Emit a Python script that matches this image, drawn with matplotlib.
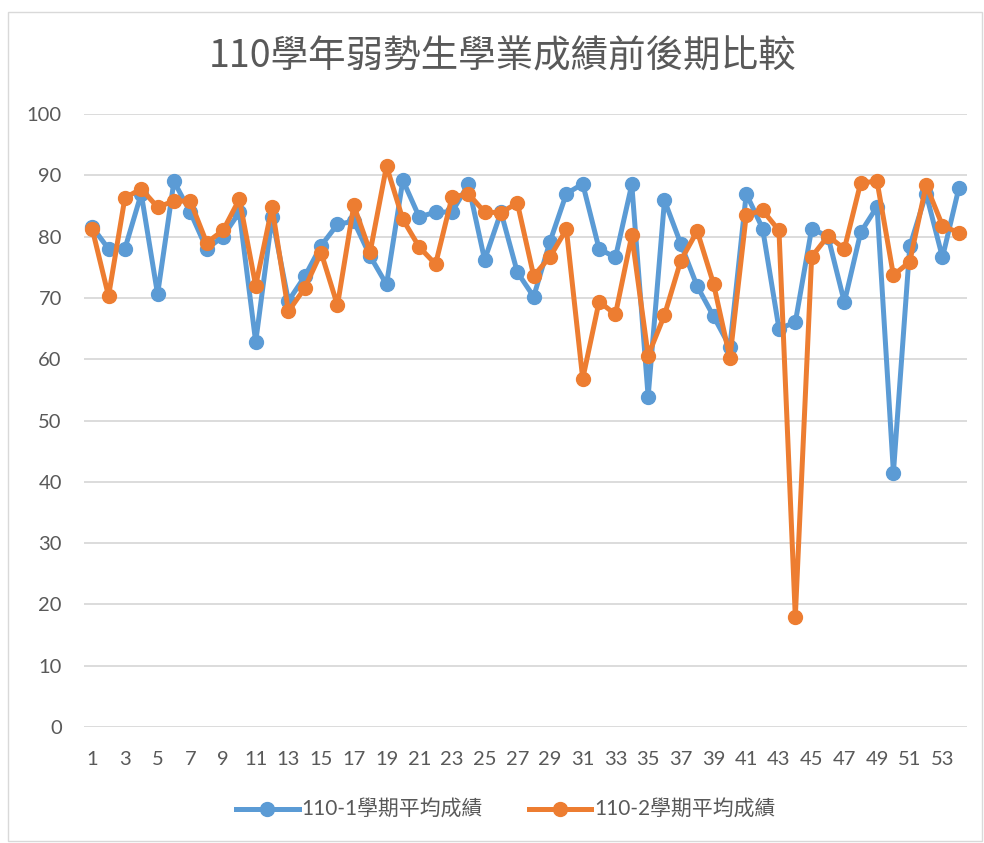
import matplotlib
matplotlib.use("Agg")
import matplotlib.pyplot as plt
from matplotlib.patches import Rectangle

plt.rcParams['font.family'] = ['Lato', 'Noto Sans CJK TC', 'DejaVu Sans']

title = "110學年弱勢生學業成績前後期比較"
series1_name = "110-1學期平均成績"
series2_name = "110-2學期平均成績"

students = list(range(1, 55))
sem1 = [81.6, 78.0, 78.0, 87.0, 70.6, 89.0, 84.0, 78.0, 80.0, 84.0,
        62.8, 83.2, 69.5, 73.5, 78.5, 82.0, 82.5, 76.8, 72.2, 89.2,
        83.2, 84.0, 84.0, 88.5, 76.2, 84.0, 74.2, 70.2, 79.2, 87.0,
        88.6, 78.0, 76.6, 88.5, 53.9, 85.9, 78.8, 71.9, 67.0, 62.0,
        87.0, 81.3, 65.0, 66.0, 81.3, 80.0, 69.3, 80.7, 84.9, 41.5,
        78.4, 87.0, 76.6, 87.9]
sem2 = [81.3, 70.3, 86.3, 87.8, 84.8, 85.8, 85.8, 79.0, 81.0, 86.1,
        72.0, 84.8, 67.8, 71.6, 77.4, 68.8, 85.1, 77.5, 91.5, 82.8,
        78.3, 75.5, 86.4, 87.0, 84.0, 83.9, 85.5, 73.6, 76.7, 81.2,
        56.8, 69.4, 67.3, 80.2, 60.6, 67.2, 76.1, 80.9, 72.3, 60.2,
        83.5, 84.3, 81.0, 18.0, 76.7, 80.1, 78.0, 88.8, 89.0, 73.7,
        75.9, 88.4, 81.8, 80.6]
yticks = list(range(0, 101, 10))

W, H = 984, 843
fig = plt.figure(figsize=(W / 100, H / 100), dpi=100)
fig.add_artist(Rectangle((8 / W, 1 - 841 / H), (982 - 8) / W, (841 - 12) / H,
                         transform=fig.transFigure, fill=False,
                         edgecolor='#D9D9D9', linewidth=1.0))

ax = fig.add_axes([84 / W, 1 - 727 / H, (967 - 84) / W, (727 - 114) / H])

blue = '#5B9BD5'
orange = '#ED7D31'
ax.plot(students, sem1, color=blue, linewidth=3.6, marker='o', markersize=10,
        label=series1_name, zorder=3, solid_joinstyle='round')
ax.plot(students, sem2, color=orange, linewidth=3.6, marker='o', markersize=10,
        label=series2_name, zorder=4, solid_joinstyle='round')

ax.set_xlim(0.5, 54.5)
ax.set_ylim(0, 100)
ax.set_yticks(yticks)
ax.set_yticklabels([str(v) for v in yticks])
ax.set_xticks(students[::2])
ax.set_xticklabels([str(v) for v in students[::2]])
ax.grid(axis='y', color='#D9D9D9', linewidth=1.3)
ax.set_axisbelow(True)
for s in ax.spines.values():
    s.set_visible(False)
ax.tick_params(axis='both', length=0, labelsize=14.5, colors='#595959')
ax.tick_params(axis='y', pad=16)
ax.tick_params(axis='x', pad=17)

fig.text(503 / W, 1 - 57 / H, title, ha='center', va='center', fontsize=27,
         color='#595959', family=['Noto Sans CJK TC'], fontweight='light')

leg = fig.legend(loc='center', bbox_to_anchor=(506 / W, 1 - 810 / H), ncol=2,
                 frameon=False, fontsize=15, handlelength=3.0,
                 columnspacing=2.2, handletextpad=0.15)
for t in leg.get_texts():
    t.set_color('#595959')
    t.set_family(['Lato', 'Noto Sans CJK TC'])

fig.savefig('out.png', dpi=100)
